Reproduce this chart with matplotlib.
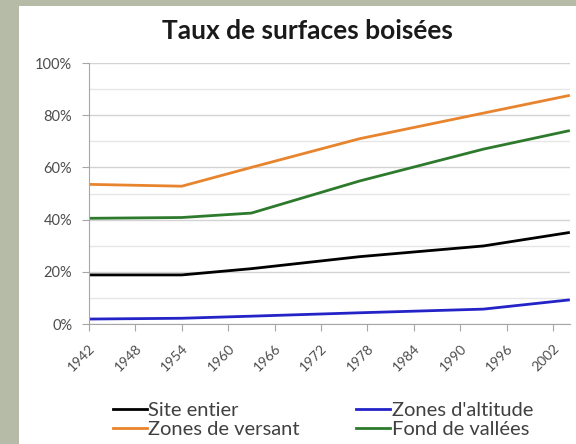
import matplotlib
matplotlib.use('Agg')
import matplotlib.pyplot as plt
from matplotlib.patches import Rectangle
from matplotlib.ticker import MultipleLocator, PercentFormatter

plt.rcParams['font.family'] = ['Lato', 'DejaVu Sans']

years = [1942, 1954, 1963, 1977, 1993, 2004]
site_entier = [18.8, 18.8, 21.2, 25.8, 29.9, 35.0]
zones_altitude = [1.9, 2.2, 3.0, 4.3, 5.7, 9.2]
zones_versant = [53.5, 52.8, 60.0, 71.0, 80.8, 87.5]
fond_vallees = [40.5, 40.8, 42.5, 54.8, 67.0, 74.0]
tick_years = list(range(1942, 2003, 6))

fig = plt.figure(figsize=(5.76, 4.44), dpi=100)
fig.patch.set_facecolor('#b5bba7')
# white slide panel behind the chart
fig.patches.append(Rectangle((19 / 576, 0), 1, (444 - 6) / 444, transform=fig.transFigure,
                             facecolor='white', edgecolor='none', zorder=-10))

ax = fig.add_axes([89 / 576, 120 / 444, 481 / 576, 261 / 444])
ax.set_facecolor('none')

l1, = ax.plot(years, site_entier, color='black', lw=2.0, label='Site entier')
l2, = ax.plot(years, zones_altitude, color='#2323c8', lw=2.0, label="Zones d'altitude")
l3, = ax.plot(years, zones_versant, color='#e8842e', lw=2.0, label='Zones de versant')
l4, = ax.plot(years, fond_vallees, color='#2d7a2d', lw=2.0, label='Fond de vallées')

ax.set_ylim(0, 100)
ax.set_xlim(1942, 2004.2)
ax.yaxis.set_major_locator(MultipleLocator(20))
ax.yaxis.set_minor_locator(MultipleLocator(10))
ax.yaxis.set_major_formatter(PercentFormatter(decimals=0))
ax.grid(axis='y', which='major', color='#d3d3d3', lw=1)
ax.grid(axis='y', which='minor', color='#e6e6e6', lw=1)
ax.set_axisbelow(True)

ax.set_xticks(tick_years)
ax.set_xticklabels([str(y) for y in tick_years], rotation=45, ha='right',
                   rotation_mode='anchor')

for s in ['top', 'right']:
    ax.spines[s].set_visible(False)
for s in ['left', 'bottom']:
    ax.spines[s].set_color('#a6a6a6')
ax.tick_params(axis='y', which='major', length=5, color='#a6a6a6', labelsize=10.5,
               labelcolor='#4d4d4d', pad=7)
ax.tick_params(axis='y', which='minor', length=0)
ax.tick_params(axis='x', length=5, color='#a6a6a6', labelsize=10,
               labelcolor='#4d4d4d', pad=8)

fig.text(307 / 576, 1 - 31 / 444, 'Taux de surfaces boisées', ha='center', va='center',
         fontsize=19, fontweight='bold', color='#1a1a1a')

fig.legend(handles=[l1, l3, l2, l4], loc='center left', bbox_to_anchor=(95 / 576, 1 - 420 / 444),
           ncol=2, frameon=False, fontsize=14.5, handlelength=1.7, handletextpad=0.05,
           columnspacing=2.8, labelspacing=0.05, labelcolor='#404040')

fig.savefig('out.png', dpi=100, facecolor=fig.get_facecolor())
